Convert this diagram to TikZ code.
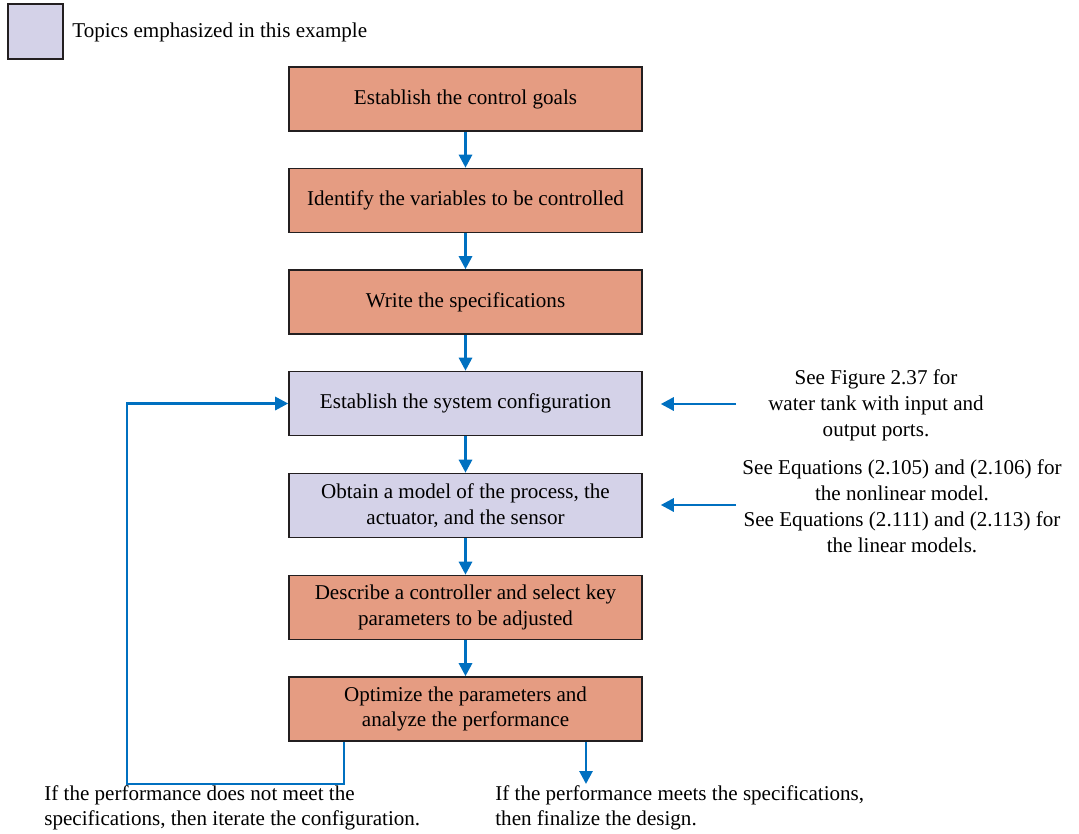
\documentclass[tikz,border=0pt]{standalone}
\usepackage{fontspec}
\setmainfont{Liberation Serif}
\usetikzlibrary{positioning, arrows.meta}
\definecolor{salmon}{HTML}{E59C82}
\definecolor{lavender}{HTML}{D4D2E8}
\definecolor{flowblue}{HTML}{0070C0}
\definecolor{edgegray}{HTML}{231F20}

\begin{document}
\begin{tikzpicture}[x=0.02cm, y=-0.02cm,
    stepbox/.style={draw=edgegray, line width=0.9pt, fill=salmon, minimum width=7.06cm,
      minimum height=1.28cm, align=center, font=\fontsize{12}{14.5}\selectfont},
    focusbox/.style={stepbox, fill=lavender},
    flow/.style={draw=flowblue, line width=1.6pt, -{Triangle[length=2.6mm, width=2.6mm]}},
    note/.style={align=center, inner sep=0pt, font=\fontsize{12}{14.7}\selectfont},
    outcome/.style={align=left, inner sep=0pt, anchor=west, font=\fontsize{12}{14.2}\selectfont}]
  \useasboundingbox (0,0) rectangle (1079,833);

  % legend
  \node[draw=edgegray, line width=0.9pt, fill=lavender, minimum size=1.1cm, inner sep=0pt]
    (legend) at (35.5,31.5) {};
  \node[anchor=west, inner sep=0pt, font=\fontsize{12}{14}\selectfont]
    (legendtext) at (72,32) {Topics emphasized in this example};

  % design steps
  \node[stepbox] (goals) at (465.5,99) {Establish the control goals};
  \node[stepbox] (vars) at (465.5,200.5) {Identify the variables to be controlled};
  \node[stepbox] (specs) at (465.5,302) {Write the specifications};
  \node[focusbox] (config) at (465.5,403.5) {Establish the system configuration};
  \node[focusbox] (model) at (465.5,505.5) {Obtain a model of the process, the\\actuator, and the sensor};
  \node[stepbox] (ctrl) at (465.5,607.5) {Describe a controller and select key\\parameters to be adjusted};
  \node[stepbox] (optim) at (465.5,709) {Optimize the parameters and\\analyze the performance};

  \foreach \a/\b in {goals/vars, vars/specs, specs/config, config/model, model/ctrl, ctrl/optim}
    \draw[flow] (\a) -- (\b);

  % side notes
  \node[note] (fignote) at (876,405) {See Figure 2.37 for\\water tank with input and\\output ports.};
  \node[note] (eqnote) at (902,506) {See Equations (2.105) and (2.106) for\\the nonlinear model.\\See Equations (2.111) and (2.113) for\\the linear models.};
  \coordinate (figin) at (736,404);
  \coordinate (eqin) at (736,505);
  \draw[flow, shorten >=0.36cm] (figin) -- (figin -| config.east);
  \draw[flow, shorten >=0.36cm] (eqin) -- (eqin -| model.east);

  % outcomes
  \coordinate (back) at (127,784);
  \coordinate (done) at (586,784);
  \draw[flow] ([xshift=-2.43cm]optim.south) |- (back) |- (config.west);
  \draw[flow] (optim.south -| done) -- (done);
  \node[outcome] (iterate) at (44,808) {If the performance does not meet the\\specifications, then iterate the configuration.};
  \node[outcome] (finalize) at (495,808) {If the performance meets the specifications,\\then finalize the design.};
\end{tikzpicture}
\end{document}
